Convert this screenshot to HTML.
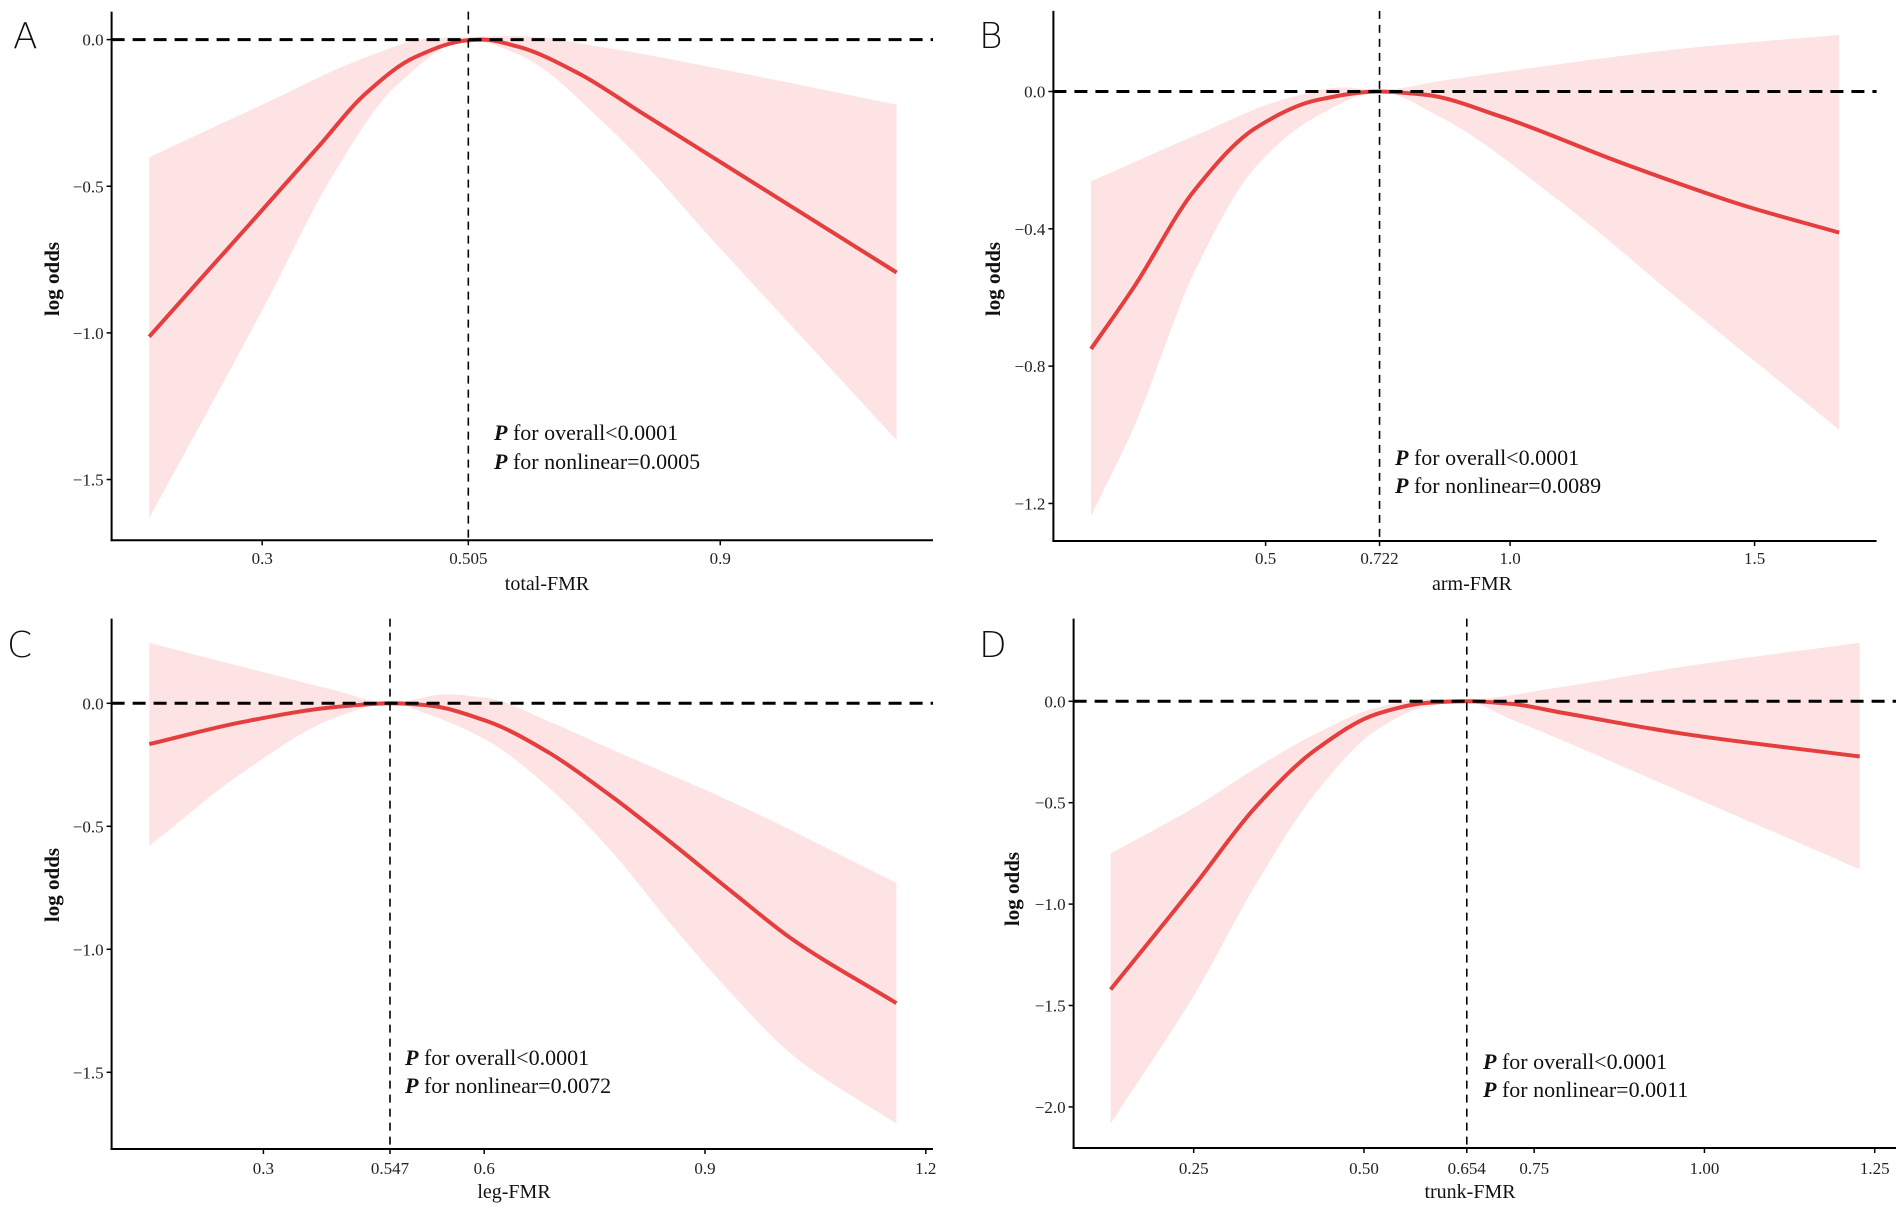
<!DOCTYPE html>
<html><head><meta charset="utf-8"><style>
html,body{margin:0;padding:0;background:#fff}
svg{display:block}
.tk{font-family:"Liberation Serif",serif;font-size:17px;fill:#222}
.ttl{font-family:"Liberation Serif",serif;font-size:20px;fill:#111}
.yt{font-family:"Liberation Serif",serif;font-size:21px;font-weight:bold;fill:#111}
.pt{font-family:"Liberation Serif",serif;font-size:22px;fill:#111}
.lt{font-family:"DejaVu Sans","Liberation Sans",sans-serif;font-size:36px;font-weight:200;fill:#111}
</style></head><body>
<svg id="fig" width="1902" height="1211" viewBox="0 0 1902 1211" xmlns="http://www.w3.org/2000/svg"></svg>
<script>
// Panel A: total-FMR
const aLineX=[0.152,0.228,0.300,0.372,0.436,0.500,0.570,0.588,0.635,0.715,0.795,0.900,0.995,1.131];
const aLineY=[-1.013,-0.791,-0.581,-0.370,-0.183,-0.060,-0.002,0,-0.024,-0.116,-0.246,-0.417,-0.572,-0.794];
const aUpX=[0.152,0.300,0.436,0.516,0.570,0.635,0.755,0.915,1.131];
const aUpY=[-0.401,-0.222,-0.060,0.003,0.009,0.012,-0.030,-0.108,-0.222];
const aLoX=[0.152,0.300,0.396,0.476,0.570,0.635,0.755,0.900,0.995,1.131];
const aLoY=[-1.631,-0.923,-0.447,-0.156,-0.001,-0.050,-0.302,-0.712,-0.981,-1.366];
const aXTicks=[0.3,0.9];
const aXTickLabels=["0.3","0.9"];
const aYTicks=[0,-0.5,-1.0,-1.5];
const aYTickLabels=["0.0","\u22120.5","\u22121.0","\u22121.5"];
// Panel B: arm-FMR
const bLineX=[0.143,0.231,0.355,0.480,0.605,0.733,0.829,0.979,1.228,1.478,1.673];
const bLineY=[-0.750,-0.569,-0.287,-0.106,-0.025,0,-0.010,-0.072,-0.208,-0.332,-0.411];
const bUpX=[0.143,0.355,0.542,0.658,0.733,0.854,1.103,1.353,1.673];
const bUpY=[-0.262,-0.129,-0.021,0.012,0.004,0.030,0.080,0.125,0.165];
const bLoX=[0.143,0.231,0.355,0.480,0.605,0.733,0.854,1.103,1.353,1.673];
const bLoY=[-1.236,-0.976,-0.524,-0.219,-0.072,-0.001,-0.072,-0.321,-0.615,-0.985];
const bXTicks=[0.5,1.0,1.5];
const bXTickLabels=["0.5","1.0","1.5"];
const bYTicks=[0,-0.4,-0.8,-1.2];
const bYTickLabels=["0.0","\u22120.4","\u22120.8","\u22121.2"];
// Panel C: leg-FMR
const cLineX=[0.145,0.273,0.398,0.472,0.522,0.605,0.688,0.771,0.853,0.936,1.019,1.160];
const cLineY=[-0.166,-0.075,-0.015,0,-0.008,-0.074,-0.201,-0.374,-0.564,-0.765,-0.960,-1.219];
const cUpX=[0.145,0.273,0.398,0.472,0.547,0.605,0.688,0.771,0.936,1.160];
const cUpY=[0.246,0.147,0.052,0,0.036,0.021,-0.074,-0.185,-0.400,-0.730];
const cLoX=[0.145,0.273,0.398,0.472,0.522,0.605,0.688,0.771,0.853,0.936,1.019,1.160];
const cLoY=[-0.580,-0.279,-0.058,0,-0.043,-0.153,-0.343,-0.595,-0.895,-1.180,-1.430,-1.709];
const cXTicks=[0.3,0.6,0.9,1.2];
const cXTickLabels=["0.3","0.6","0.9","1.2"];
const cYTicks=[0,-0.5,-1.0,-1.5];
const cYTickLabels=["0.0","\u22120.5","\u22121.0","\u22121.5"];
// Panel D: trunk-FMR
const dLineX=[0.128,0.252,0.341,0.431,0.520,0.592,0.651,0.717,0.789,0.968,1.228];
const dLineY=[-1.421,-0.904,-0.521,-0.234,-0.061,-0.008,0,-0.013,-0.055,-0.160,-0.272];
const dUpX=[0.128,0.252,0.341,0.431,0.520,0.592,0.651,0.789,0.968,1.228];
const dUpY=[-0.751,-0.521,-0.330,-0.157,-0.030,0.010,0.010,0.070,0.170,0.289];
const dLoX=[0.128,0.252,0.341,0.431,0.520,0.592,0.651,0.717,0.789,0.968,1.228];
const dLoY=[-2.082,-1.441,-0.904,-0.444,-0.138,-0.027,-0.004,-0.090,-0.190,-0.450,-0.828];
const dXTicks=[0.25,0.50,0.75,1.00,1.25];
const dXTickLabels=["0.25","0.50","0.75","1.00","1.25"];
const dYTicks=[0,-0.5,-1.0,-1.5,-2.0];
const dYTickLabels=["0.0","\u22120.5","\u22121.0","\u22121.5","\u22122.0"];
// reference (knot) values and their labels
const refValues=[0.570,0.733,0.472,0.651];
const refLabels=["0.505","0.722","0.547","0.654"];
const pOverall=["<0.0001","<0.0001","<0.0001","<0.0001"];
const pNonlinear=["=0.0005","=0.0089","=0.0072","=0.0011"];

const NS="http://www.w3.org/2000/svg";
const svg=document.getElementById('fig');
function mk(tag,attrs,parent){const e=document.createElementNS(NS,tag);for(const k in attrs)e.setAttribute(k,attrs[k]);(parent||svg).appendChild(e);return e;}
// monotone cubic (Fritsch-Carlson) path through points sorted by x (pixel space)
function mono(pts,reverse){
 const n=pts.length,dx=[],m=[],t=[];
 for(let i=0;i<n-1;i++){dx[i]=pts[i+1][0]-pts[i][0];m[i]=(pts[i+1][1]-pts[i][1])/dx[i];}
 t[0]=m[0];t[n-1]=m[n-2];
 for(let i=1;i<n-1;i++){ if(m[i-1]*m[i]<=0)t[i]=0; else {const w1=2*dx[i]+dx[i-1],w2=dx[i]+2*dx[i-1];t[i]=(w1+w2)/(w1/m[i-1]+w2/m[i]);} }
 const segs=[];
 for(let i=0;i<n-1;i++){const h=dx[i];
  segs.push([pts[i],[pts[i][0]+h/3,pts[i][1]+t[i]*h/3],[pts[i+1][0]-h/3,pts[i+1][1]-t[i+1]*h/3],pts[i+1]]);}
 const f=p=>p[0].toFixed(1)+","+p[1].toFixed(1);
 if(!reverse){let d="M"+f(pts[0]);segs.forEach(s=>d+=" C"+f(s[1])+" "+f(s[2])+" "+f(s[3]));return d;}
 let d="";for(let i=segs.length-1;i>=0;i--){const s=segs[i];d+=" C"+f(s[2])+" "+f(s[1])+" "+f(s[0]);}return d;
}

const panels=[
 {id:"a",letter:"A",lx:13,ly:48,left:111.6,right:933,top:11.6,bottom:540.3,x0v:0.3,x0p:262.2,kx:763.4,y0p:39.6,ky:293.3,
  lineX:aLineX,lineY:aLineY,upX:aUpX,upY:aUpY,loX:aLoX,loY:aLoY,xt:aXTicks,xtl:aXTickLabels,yt:aYTicks,ytl:aYTickLabels,
  xtitle:"total-FMR",xtx:547,xty:590,tickBase:564,ytx:52,yty:279,px:494,py1:440,py2:469},
 {id:"b",letter:"B",lx:979,ly:48,left:1053.4,right:1876.6,top:10.9,bottom:541,x0v:0.5,x0p:1265.6,kx:489,y0p:91.5,ky:343.3,
  lineX:bLineX,lineY:bLineY,upX:bUpX,upY:bUpY,loX:bLoX,loY:bLoY,xt:bXTicks,xtl:bXTickLabels,yt:bYTicks,ytl:bYTickLabels,
  xtitle:"arm-FMR",xtx:1472,xty:590,tickBase:564,ytx:993,yty:279,px:1395,py1:465,py2:493},
 {id:"c",letter:"C",lx:7,ly:657,left:111.6,right:933,top:618.6,bottom:1149,x0v:0.3,x0p:263.4,kx:736,y0p:703.3,ky:246,
  lineX:cLineX,lineY:cLineY,upX:cUpX,upY:cUpY,loX:cLoX,loY:cLoY,xt:cXTicks,xtl:cXTickLabels,yt:cYTicks,ytl:cYTickLabels,
  xtitle:"leg-FMR",xtx:514,xty:1198,tickBase:1174,ytx:52,yty:885,px:405,py1:1065,py2:1093},
 {id:"d",letter:"D",lx:979,ly:657,left:1073.6,right:1896,top:618.6,bottom:1148,x0v:0.25,x0p:1193.7,kx:681,y0p:701.3,ky:202.8,
  lineX:dLineX,lineY:dLineY,upX:dUpX,upY:dUpY,loX:dLoX,loY:dLoY,xt:dXTicks,xtl:dXTickLabels,yt:dYTicks,ytl:dYTickLabels,
  xtitle:"trunk-FMR",xtx:1470,xty:1198,tickBase:1174,ytx:1012,yty:889,px:1483,py1:1069,py2:1097}
];

panels.forEach((P,pi)=>{
 const X=v=>P.x0p+(v-P.x0v)*P.kx, Y=v=>P.y0p-v*P.ky;
 const g=mk('g',{});
 
 
 const lt=mk('text',{x:P.lx,y:P.ly,class:'lt'},g);lt.textContent=P.letter;
 
 
 const up=P.upX.map((v,i)=>[X(v),Y(P.upY[i])]);
 const lo=P.loX.map((v,i)=>[X(v),Y(P.loY[i])]);
 const last=lo[lo.length-1];
 const dd=mono(up,false)+" L"+last[0].toFixed(1)+","+last[1].toFixed(1)+mono(lo,true)+" Z";
 const band=mk('path',{d:dd,fill:'#fde3e3',stroke:'none'},g);
 
 
 const ln=mk('path',{d:mono(P.lineX.map((v,i)=>[X(v),Y(P.lineY[i])]),false),fill:'none',stroke:'#e53e3e','stroke-width':4},g);
 
 
 const hl=mk('line',{x1:P.left,x2:P.right,y1:Y(0),y2:Y(0),stroke:'#000','stroke-width':3,'stroke-dasharray':'13,8'},g);
 
 
 const vx=X(refValues[pi]);
 const vl=mk('line',{x1:vx,x2:vx,y1:P.top,y2:P.bottom,stroke:'#000','stroke-width':1.6,'stroke-dasharray':'8,6'},g);
 
 
 const ya=mk('line',{x1:P.left,x2:P.left,y1:P.top,y2:P.bottom+1,stroke:'#000','stroke-width':2},g);
 
 
 const xa=mk('line',{x1:P.left-1,x2:P.right,y1:P.bottom,y2:P.bottom,stroke:'#000','stroke-width':2},g);
 
 
 P.yt.forEach((v,i)=>{
  const y=Y(v);
  const t=mk('line',{x1:P.left-5,x2:P.left,y1:y,y2:y,stroke:'#000','stroke-width':1.5},g);
  
  
  const tx=mk('text',{x:P.left-8,y:y+6,'text-anchor':'end',class:'tk'},g);tx.textContent=P.ytl[i];
  
  
 });
 const xs=P.xt.map((v,i)=>[X(v),P.xtl[i]]).concat([[vx,refLabels[pi]]]);
 xs.forEach(([x,l])=>{
  const t=mk('line',{x1:x,x2:x,y1:P.bottom,y2:P.bottom+5,stroke:'#000','stroke-width':1.5},g);
  
  
  const tx=mk('text',{x:x,y:P.tickBase,'text-anchor':'middle',class:'tk'},g);tx.textContent=l;
  
  
 });
 const xt=mk('text',{x:P.xtx,y:P.xty,'text-anchor':'middle',class:'ttl'},g);xt.textContent=P.xtitle;
 
 
 const yt=mk('text',{x:0,y:0,'text-anchor':'middle',class:'yt',transform:'translate('+(P.ytx+7)+','+P.yty+') rotate(-90)'},g);yt.textContent="log odds";
 
 
 [[P.py1,' for overall'+pOverall[pi],'p-overall-annotation-'],[P.py2,' for nonlinear'+pNonlinear[pi],'p-nonlinear-annotation-']].forEach(([yy,txt,nm])=>{
  const t=mk('text',{x:P.px,y:yy,'font-family':'Liberation Serif, serif','font-size':'22',fill:'#111'},g);
  const s1=mk('tspan',{'font-style':'italic','font-weight':'bold'},t);s1.textContent='P';
  const s2=mk('tspan',{},t);s2.textContent=txt;
  
  
 });
});
</script>
</body></html>
